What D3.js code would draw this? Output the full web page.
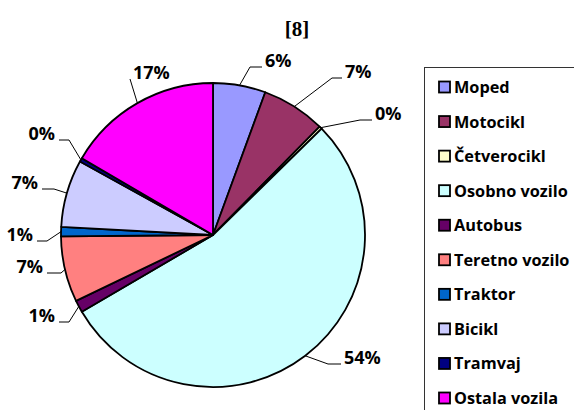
<!DOCTYPE html>
<html>
<head>
<meta charset="utf-8">
<script src="https://cdn.jsdelivr.net/npm/d3@7"></script>
<style>
  body { margin: 0; background: #fff; }
  svg { display: block; }
</style>
</head>
<body>
<script>
var categories = ["Moped", "Motocikl", "Četverocikl", "Osobno vozilo", "Autobus",
                  "Teretno vozilo", "Traktor", "Bicikl", "Tramvaj", "Ostala vozila"];
var values = [5.6, 6.8, 0.3, 54.0, 1.3, 7.0, 1.0, 7.2, 0.4, 16.6];
var colors = ["#9999FF", "#993366", "#FFFFCC", "#CCFFFF", "#660066",
              "#FF8080", "#0066CC", "#CCCCFF", "#000080", "#FF00FF"];

// where each percent label sits (x, baseline), which side, and the length of the elbow
var labelPos = [
  {x: 265, y: 67, side: "r", elbow: 12},
  {x: 345, y: 78, side: "r", elbow: 10},
  {x: 375, y: 120, side: "r", elbow: 12},
  {x: 344, y: 364, side: "r", elbow: 13},
  {x: 55, y: 322, side: "l", elbow: 10},
  {x: 43, y: 273, side: "l", elbow: 14},
  {x: 33, y: 241, side: "l", elbow: 10},
  {x: 38, y: 189, side: "l", elbow: 12},
  {x: 55, y: 140, side: "l", elbow: 10},
  {x: 133, y: 79, side: "r", elbow: 0}
];

var width = 574, height = 410;
var cx = 213, cy = 235, r = 152;

var svg = d3.select("body")
  .append("svg")
  .attr("width", width)
  .attr("height", height);

svg.append("text")
  .attr("x", 297)
  .attr("y", 36)
  .attr("text-anchor", "middle")
  .style("font-family", "'Liberation Serif', 'Times New Roman', serif")
  .style("font-weight", "bold")
  .style("font-size", "21px")
  .text("[8]");

var pie = d3.pie().sort(null).value(function(d) { return d; });
var arcs = pie(values);
var arc = d3.arc().innerRadius(0).outerRadius(r);

var g = svg.append("g").attr("transform", "translate(" + cx + "," + cy + ")");

g.selectAll("path.slice")
  .data(arcs)
  .enter()
  .append("path")
  .attr("class", "slice")
  .attr("d", arc)
  .attr("fill", function(d, i) { return colors[i]; })
  .attr("stroke", "#000")
  .attr("stroke-width", 1.8)
  .attr("stroke-linejoin", "round");

var total = d3.sum(values);

// leader lines
svg.selectAll("polyline.leader")
  .data(arcs)
  .enter()
  .append("polyline")
  .attr("class", "leader")
  .attr("fill", "none")
  .attr("stroke", "#000")
  .attr("stroke-width", 1)
  .attr("points", function(d, i) {
    var a = (d.startAngle + d.endAngle) / 2;
    var p0 = [cx + r * Math.sin(a), cy - r * Math.cos(a)];
    var L = labelPos[i];
    var ax = L.side == "r" ? L.x - 3 : L.x + 4;
    var ex = L.side == "r" ? ax - L.elbow : ax + L.elbow;
    return [p0, [ex, L.y], [ax, L.y]].map(function(p) { return p.join(","); }).join(" ");
  });

svg.selectAll("text.pct")
  .data(arcs)
  .enter()
  .append("text")
  .attr("class", "pct")
  .attr("x", function(d, i) { return labelPos[i].x; })
  .attr("y", function(d, i) { return labelPos[i].y; })
  .attr("text-anchor", function(d, i) { return labelPos[i].side == "r" ? "start" : "end"; })
  .style("font-family", "'Open Sans', sans-serif")
  .style("font-weight", "bold")
  .style("font-size", "18px")
  .text(function(d) { return Math.round(d.value / total * 100) + "%"; });

// legend
var legend = svg.append("g");
legend.append("rect")
  .attr("x", 424.5)
  .attr("y", 67.5)
  .attr("width", 170)
  .attr("height", 360)
  .attr("fill", "#fff")
  .attr("stroke", "#333")
  .attr("stroke-width", 1);

var ly = d3.scalePoint().domain(categories).range([87, 398]);

var items = legend.selectAll("g.item")
  .data(categories)
  .enter()
  .append("g")
  .attr("class", "item")
  .attr("transform", function(d) { return "translate(0," + ly(d) + ")"; });

items.append("rect")
  .attr("x", 439)
  .attr("y", -5.5)
  .attr("width", 11)
  .attr("height", 11)
  .attr("fill", function(d, i) { return colors[i]; })
  .attr("stroke", "#000")
  .attr("stroke-width", 1.8);

items.append("text")
  .attr("x", 454)
  .attr("y", 6)
  .style("font-family", "'Open Sans', sans-serif")
  .style("font-weight", "bold")
  .style("font-size", "16.3px")
  .text(function(d) { return d; });
</script>
</body>
</html>
